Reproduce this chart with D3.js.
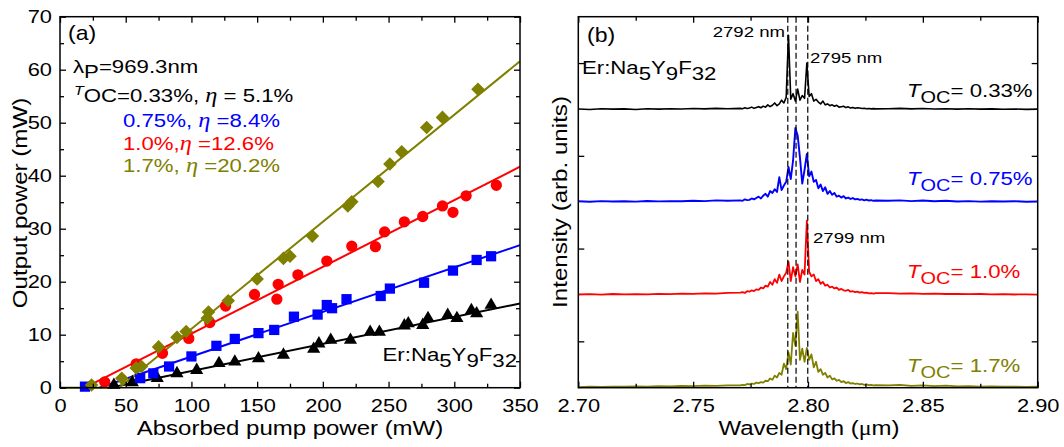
<!DOCTYPE html>
<html><head><meta charset="utf-8">
<script src="https://cdn.jsdelivr.net/npm/d3@7"></script>
<style>body{margin:0;background:#fff}</style>
</head><body>
<script>
// ---------- Panel (a) data ----------
const blackPump = [41,55,74,89,104,121,133,151,170,193,197,206,221,236,243,262,265,276,280,295,302,313,317,328];
const blackOut  = [0.5,1.0,1.8,2.7,3.3,4.6,4.9,5.5,6.2,7.3,8.3,9.0,9.0,10.5,10.5,11.7,12.1,11.8,13.1,13.7,13.1,14.6,14.0,15.6];
const bluePump  = [19,61,71,83,100,119,133,151,163,178,196,203,207,218,244,251,277,299,317,328];
const blueOut   = [0.2,1.8,2.7,4.0,5.9,7.9,9.2,10.3,10.9,13.4,13.8,15.6,15.0,16.7,17.3,18.7,19.8,22.1,24.1,24.8];
const redPump   = [34,58,78,98,114,126,148,165,166,181,203,222,240,247,262,276,291,299,309,332];
const redOut    = [1.1,4.5,6.5,9.3,12.3,15.4,17.6,16.7,19.5,21.3,23.9,26.7,26.6,29.4,31.3,32.3,34.3,33.1,36.2,38.2];
const olivePump = [24,47,58,62,75,89,96,112,113,128,150,170,175,192,219,222,242,251,260,279,291,318];
const oliveOut  = [0.5,1.8,3.7,4.0,7.7,9.5,10.6,13.1,14.3,16.4,20.5,24.4,24.8,28.6,34.3,35.1,38.9,42.2,44.5,49.1,51.0,56.3];
// fitted lines (endpoints)
const blackFitX = [38,350],  blackFitY = [0,15.9];
const blueFitX  = [30,350],  blueFitY  = [0,26.9];
const redFitX   = [19,350],  redFitY   = [0,41.7];
const oliveFitX = [0,45,350], oliveFitY = [0,0,61.6];
const xTicksA = [0,50,100,150,200,250,300,350];
const yTicksA = [0,10,20,30,40,50,60,70];

// ---------- Panel (b) data ----------
const wlLeft   = d3.range(14).map(i => 2.700 + 0.005*i);
const wlCenter = d3.range(60).map(i => 2.7705 + 0.001*i);
const wlRight  = d3.range(14).map(i => 2.835 + 0.005*i);
const wavelength = [...wlLeft, ...wlCenter, ...wlRight];
const specBlack = [
0.005,0,0.008,0.003,0.006,0,0.007,0.004,0.008,0.005,0.01,0.006,0.012,0.008,
0.012,0.008,0.018,0.01,0.015,0.025,0.012,0.02,0.03,0.018,
0.035,0.025,0.05,0.03,0.045,0.07,0.04,0.06,0.1,0.07,
0.13,0.8,0.11,0.17,0.09,0.22,0.1,0.15,0.12,0.5,
0.14,0.17,0.09,0.11,0.08,0.06,0.09,0.05,0.06,0.04,
0.05,0.035,0.045,0.025,0.03,0.035,0.02,0.028,0.015,0.022,
0.012,0.018,0.015,0.01,0.012,0.008,0.01,0.006,0.009,0.006,
0.008,0.012,0.006,0.01,0.005,0.008,0.004,0.007,0.003,0.006,0.002,0.005,0.001,0.004];
const specBlue = [
0.01,0.005,0.012,0.008,0.01,0.006,0.013,0.009,0.012,0.01,0.015,0.012,0.02,0.015,
0.02,0.015,0.03,0.022,0.025,0.04,0.03,0.045,0.06,0.04,
0.07,0.09,0.06,0.12,0.1,0.14,0.11,0.27,0.13,0.18,
0.22,0.38,0.25,0.45,0.8,0.72,0.48,0.2,0.35,0.52,
0.28,0.33,0.22,0.24,0.15,0.19,0.12,0.16,0.09,0.12,
0.08,0.1,0.06,0.07,0.05,0.065,0.04,0.05,0.035,0.045,
0.03,0.035,0.025,0.03,0.02,0.028,0.018,0.022,0.015,0.018,
0.015,0.02,0.012,0.018,0.01,0.015,0.008,0.012,0.006,0.01,0.008,0.01,0.005,0.008];
const specRed = [
0.005,0.008,0.004,0.01,0.006,0.009,0.007,0.012,0.009,0.014,0.012,0.018,0.015,0.022,
0.025,0.03,0.022,0.04,0.035,0.05,0.042,0.06,0.055,0.08,
0.07,0.1,0.09,0.14,0.11,0.17,0.13,0.22,0.15,0.2,
0.24,0.36,0.15,0.3,0.2,0.33,0.14,0.27,0.22,0.8,
0.25,0.2,0.22,0.15,0.17,0.12,0.14,0.1,0.11,0.08,
0.09,0.07,0.08,0.055,0.065,0.05,0.045,0.055,0.035,0.04,
0.03,0.035,0.025,0.03,0.022,0.025,0.018,0.02,0.015,0.02,
0.02,0.015,0.018,0.012,0.015,0.01,0.012,0.008,0.01,0.006,0.008,0.005,0.007,0.004];
const specOlive = [
0.005,0.01,0.008,0.012,0.01,0.015,0.012,0.018,0.015,0.02,0.018,0.022,0.02,0.025,
0.025,0.03,0.028,0.04,0.035,0.045,0.04,0.055,0.05,0.06,
0.055,0.075,0.07,0.1,0.085,0.13,0.11,0.16,0.14,0.26,
0.2,0.38,0.25,0.59,0.45,0.82,0.3,0.42,0.28,0.43,
0.3,0.36,0.22,0.28,0.17,0.2,0.14,0.16,0.11,0.13,
0.09,0.1,0.075,0.085,0.06,0.07,0.05,0.06,0.045,0.05,
0.04,0.045,0.035,0.04,0.03,0.035,0.028,0.03,0.025,0.028,
0.025,0.03,0.02,0.025,0.018,0.022,0.015,0.018,0.012,0.015,0.01,0.012,0.008,0.01];
const specOffsets = [3,2,1,0];
const dashedWl = [2.7912, 2.7948, 2.7999];
const xTicksB = [2.70,2.75,2.80,2.85,2.90];

// ---------- setup ----------
const W = 1064, H = 447;
const FONT = "'Liberation Sans', Arial, sans-serif";
const SERIF = "'Liberation Serif', 'Times New Roman', serif";
const BLACK = '#000', BLUE = '#0000ff', RED = '#ff0000', OLIVE = '#808000';
const TOP = 16.7, BOT = 387.7;
const svg = d3.select('body').append('svg').attr('width', W).attr('height', H);

const xA = d3.scaleLinear([0,350],[60,520]);
const yA = d3.scaleLinear([0,70],[BOT,TOP]);
const xB = d3.scaleLinear([2.70,2.90],[578.3,1037.7]);
const yB = d3.scaleLinear([0,4],[BOT,TOP]);

function label(parent, o) {
  const size = o.size || 18.5, sx = o.sx || 1.2;
  const g = parent.append('g').attr('transform', `translate(${o.x},${o.y}) rotate(${o.rotate||0}) scale(${sx},1)`);
  const t = g.append('text').attr('text-anchor', o.anchor || 'start')
    .attr('font-family', FONT).attr('font-size', size).attr('fill', o.fill || '#000');
  let cur = 0;
  o.parts.forEach(p => {
    const ts = t.append('tspan').text(p.t);
    const s = p.shift || 0;
    ts.attr('dy', s - cur); cur = s;
    if (p.italic) ts.attr('font-style', 'italic');
    if (p.serif) ts.attr('font-family', SERIF);
    if (p.scale) ts.attr('font-size', size * p.scale);
  });
}

function styleAxis(g, sx) {
  g.select('.domain').remove();
  g.selectAll('line').attr('stroke', '#000').attr('stroke-width', 1.3);
  g.attr('font-family', FONT).attr('font-size', 19);
  g.selectAll('text').attr('fill', '#000').attr('transform', `scale(${sx},1)`);
}

function frameAxes(xs, ys, xMaj, xMin, yMaj, yMin, xFmt, yFmt) {
  const x0 = xs.range()[0], x1 = xs.range()[1];
  svg.append('g').attr('transform', `translate(0,${BOT})`)
    .call(d3.axisBottom(xs).tickValues(xMaj).tickSize(-6).tickPadding(11).tickFormat(xFmt)).call(g => styleAxis(g, 1.15));
  svg.append('g').attr('transform', `translate(0,${BOT})`)
    .call(d3.axisBottom(xs).tickValues(xMin).tickSize(-4).tickFormat('')).call(g => styleAxis(g, 1));
  svg.append('g').attr('transform', `translate(0,${TOP})`)
    .call(d3.axisTop(xs).tickValues(xMaj).tickSize(-6).tickFormat('')).call(g => styleAxis(g, 1));
  svg.append('g').attr('transform', `translate(0,${TOP})`)
    .call(d3.axisTop(xs).tickValues(xMin).tickSize(-4).tickFormat('')).call(g => styleAxis(g, 1));
  svg.append('g').attr('transform', `translate(${x0},0)`)
    .call(d3.axisLeft(ys).tickValues(yMaj).tickSize(-6).tickPadding(7).tickFormat(yFmt)).call(g => styleAxis(g, 1.15));
  if (yMin) svg.append('g').attr('transform', `translate(${x0},0)`)
    .call(d3.axisLeft(ys).tickValues(yMin).tickSize(-4).tickFormat('')).call(g => styleAxis(g, 1));
  svg.append('g').attr('transform', `translate(${x1},0)`)
    .call(d3.axisRight(ys).tickValues(yMaj).tickSize(-6).tickFormat('')).call(g => styleAxis(g, 1));
  if (yMin) svg.append('g').attr('transform', `translate(${x1},0)`)
    .call(d3.axisRight(ys).tickValues(yMin).tickSize(-4).tickFormat('')).call(g => styleAxis(g, 1));
  svg.append('rect').attr('x', x0).attr('y', TOP).attr('width', x1 - x0).attr('height', BOT - TOP)
    .attr('fill', 'none').attr('stroke', '#000').attr('stroke-width', 1.5);
}

// ---------- Panel (a) ----------
const gA = svg.append('g');
const fitLine = d3.line().x(d => xA(d[0])).y(d => yA(d[1]));
[[blackFitX, blackFitY, BLACK],[blueFitX, blueFitY, BLUE],[redFitX, redFitY, RED],[oliveFitX, oliveFitY, OLIVE]]
  .forEach(([xs, ys, c]) => {
    gA.append('path').attr('d', fitLine(xs.map((v,i) => [v, ys[i]])))
      .attr('fill', 'none').attr('stroke', c).attr('stroke-width', 2);
  });
const seriesA = [
  {px: blackPump, py: blackOut, c: BLACK, sym: d3.symbolTriangle, size: 75, rot: 0},
  {px: bluePump, py: blueOut, c: BLUE, sym: d3.symbolSquare, size: 105, rot: 0},
  {px: redPump, py: redOut, c: RED, sym: d3.symbolCircle, size: 100, rot: 0},
  {px: olivePump, py: oliveOut, c: OLIVE, sym: d3.symbolSquare, size: 92, rot: 45},
];
seriesA.forEach(s => {
  const p = d3.symbol().type(s.sym).size(s.size)();
  gA.selectAll(null).data(s.px.map((v,i) => [v, s.py[i]])).join('path')
    .attr('d', p).attr('fill', s.c)
    .attr('transform', d => `translate(${xA(d[0])},${yA(d[1])}) rotate(${s.rot})`);
});
frameAxes(xA, yA, xTicksA, [25,75,125,175,225,275,325], yTicksA, [5,15,25,35,45,55,65], d3.format('d'), d3.format('d'));

label(svg, {x: 290, y: 435, anchor: 'middle', size: 20.5, sx: 1.17, parts: [{t: 'Absorbed pump power (mW)'}]});
label(svg, {x: 27, y: 203, anchor: 'middle', rotate: -90, size: 21, sx: 1.15, parts: [{t: 'Output power (mW)'}]});
label(svg, {x: 68, y: 40, size: 20, sx: 1.15, parts: [{t: '(a)'}]});
label(svg, {x: 73, y: 73, parts: [{t: 'λ'}, {t: 'P', shift: 5}, {t: '=969.3nm', shift: 0}]});
label(svg, {x: 74, y: 101.5, parts: [{t: 'T', italic: true, scale: 0.72, shift: -6.5}, {t: 'OC=0.33%, ', shift: 0}, {t: 'η', italic: true, serif: true, scale: 1.1}, {t: ' = 5.1%'}]});
label(svg, {x: 123, y: 126.5, fill: BLUE, parts: [{t: '0.75%, '}, {t: 'η', italic: true, serif: true, scale: 1.1}, {t: ' =8.4%'}]});
label(svg, {x: 123, y: 149.5, fill: RED, parts: [{t: '1.0%,'}, {t: 'η', italic: true, serif: true, scale: 1.1}, {t: ' =12.6%'}]});
label(svg, {x: 123, y: 171.5, fill: OLIVE, parts: [{t: '1.7%, '}, {t: 'η', italic: true, serif: true, scale: 1.1}, {t: ' =20.2%'}]});
label(svg, {x: 517, y: 361, anchor: 'end', parts: [{t: 'Er:Na'}, {t: '5', shift: 6}, {t: 'Y', shift: 0}, {t: '9', shift: 6}, {t: 'F', shift: 0}, {t: '32', shift: 6}]});

// ---------- Panel (b) ----------
const gB = svg.append('g');
const specs = [[specBlack, BLACK, 1.6],[specBlue, BLUE, 1.9],[specRed, RED, 1.8],[specOlive, OLIVE, 1.8]];
specs.forEach(([vals, c, w], k) => {
  const off = specOffsets[k];
  const ln = d3.line().x((d,i) => xB(wavelength[i])).y(d => yB(d + off));
  gB.append('path').attr('d', ln(vals)).attr('fill', 'none').attr('stroke', c)
    .attr('stroke-width', w).attr('stroke-linejoin', 'round');
});
gB.selectAll(null).data(dashedWl).join('line')
  .attr('x1', d => xB(d)).attr('x2', d => xB(d)).attr('y1', TOP).attr('y2', BOT)
  .attr('stroke', '#000').attr('stroke-width', 1.2).attr('stroke-dasharray', '6,3');
frameAxes(xB, yB, xTicksB, [2.725,2.775,2.825,2.875], [0.5,1.5,2.5,3.5], null, d3.format('.2f'), () => '');

label(svg, {x: 809, y: 435, anchor: 'middle', size: 20.5, sx: 1.17, parts: [{t: 'Wavelength ('}, {t: 'μ', serif: true}, {t: 'm)'}]});
label(svg, {x: 567, y: 202, anchor: 'middle', rotate: -90, size: 21, sx: 1.15, parts: [{t: 'Intensity (arb. units)'}]});
label(svg, {x: 587, y: 42, size: 20, sx: 1.15, parts: [{t: '(b)'}]});
label(svg, {x: 582, y: 74, parts: [{t: 'Er:Na'}, {t: '5', shift: 6}, {t: 'Y', shift: 0}, {t: '9', shift: 6}, {t: 'F', shift: 0}, {t: '32', shift: 6}]});
label(svg, {x: 785, y: 37, anchor: 'end', size: 15.5, parts: [{t: '2792 nm'}]});
label(svg, {x: 810, y: 63, size: 15.5, parts: [{t: '2795 nm'}]});
label(svg, {x: 813, y: 243, size: 15.5, parts: [{t: '2799 nm'}]});
[['0.33%', 97, BLACK], ['0.75%', 185, BLUE], ['1.0%', 278, RED], ['1.7%', 372, OLIVE]].forEach(([v, y, c]) => {
  label(svg, {x: 907, y: y, fill: c, parts: [{t: 'T', italic: true}, {t: 'OC', shift: 6, scale: 0.9}, {t: '= ' + v, shift: 0}]});
});
</script>
</body></html>
